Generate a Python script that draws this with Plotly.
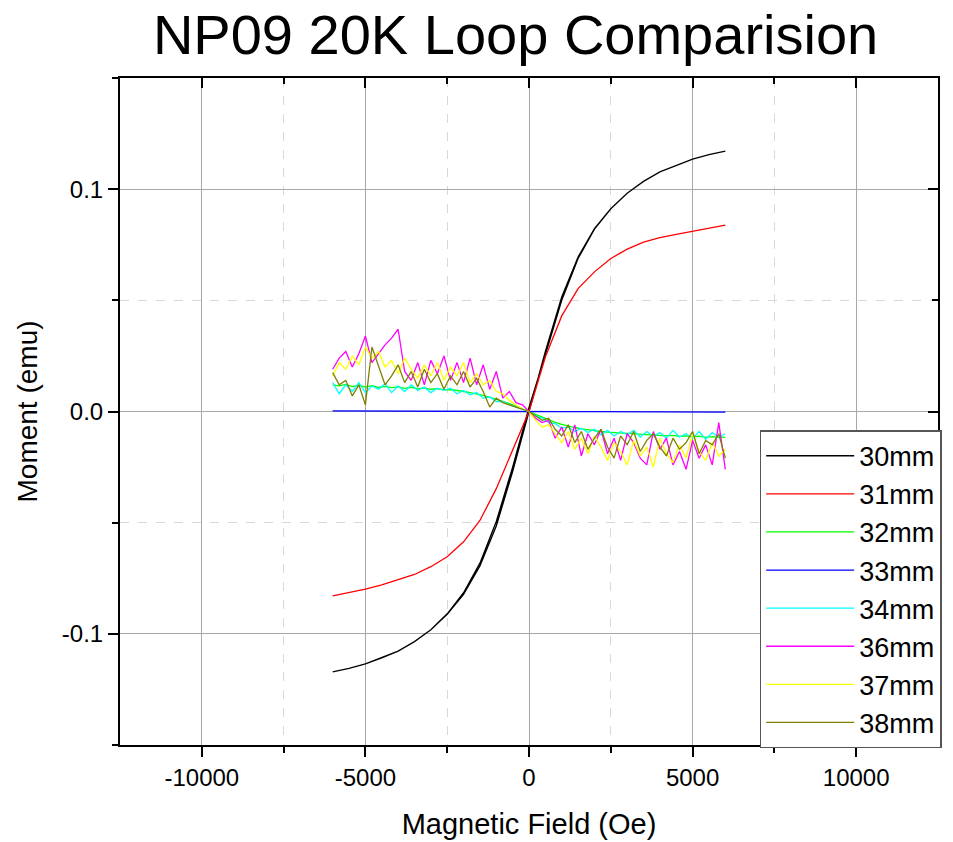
import plotly.graph_objects as go

# ---------------- data ----------------
x_smooth = [-6000, -5500, -5000, -4500, -4000, -3500, -3000, -2500, -2000, -1500, -1000, -500, 0,
            500, 1000, 1500, 2000, 2500, 3000, 3500, 4000, 4500, 5000, 5500, 6000]
m30 = [-0.1171, -0.1155, -0.1135, -0.1108, -0.1078, -0.1035, -0.0982, -0.0912, -0.0823, -0.0695, -0.0515, -0.0270, 0.0,
       0.0270, 0.0515, 0.0695, 0.0823, 0.0912, 0.0982, 0.1035, 0.1078, 0.1108, 0.1135, 0.1155, 0.1171]
m30_ret = [-0.1171, -0.1155, -0.1135, -0.1108, -0.1078, -0.1035, -0.0982, -0.0910, -0.0815, -0.0682, -0.0495, -0.0250, 0.0018,
           0.0255, 0.0500, 0.0688, 0.0820, 0.0912, 0.0982, 0.1035, 0.1078, 0.1108, 0.1135, 0.1155, 0.1171]
m31 = [-0.0829, -0.0815, -0.0799, -0.0780, -0.0757, -0.0733, -0.0698, -0.0653, -0.0586, -0.0490, -0.0347, -0.0175, 0.0,
       0.0245, 0.0430, 0.0553, 0.0628, 0.0688, 0.0730, 0.0762, 0.0782, 0.0797, 0.0811, 0.0825, 0.0838]

x_coarse = [-6000, -5000, -4000, -3000, -2000, -1000, 0, 1000, 2000, 3000, 4000, 5000, 6000]
m33 = [0.0003, 0.0002, 0.0003, 0.0002, 0.0001, 0.0001, 0.0, -0.0001, -0.0001, -0.0002, -0.0002, -0.0003, -0.0003]

x_fine = [-6000, -5800, -5600, -5400, -5200, -5000, -4800, -4600, -4400, -4200,
          -4000, -3800, -3600, -3400, -3200, -3000, -2800, -2600, -2400, -2200,
          -2000, -1800, -1600, -1400, -1200, -1000, -800, -600, -400, -200,
          0,
          200, 400, 600, 800, 1000, 1200, 1400, 1600, 1800, 2000,
          2200, 2400, 2600, 2800, 3000, 3200, 3400, 3600, 3800, 4000,
          4200, 4400, 4600, 4800, 5000, 5200, 5400, 5600, 5800, 6000]

m32 = [0.0120, 0.0115, 0.0122, 0.0112, 0.0118, 0.0110, 0.0116, 0.0108, 0.0113, 0.0107,
       0.0111, 0.0104, 0.0109, 0.0102, 0.0106, 0.0100, 0.0103, 0.0097, 0.0099, 0.0093,
       0.0090, 0.0085, 0.0080, 0.0072, 0.0063, 0.0055, 0.0046, 0.0035, 0.0024, 0.0012,
       0.0,
       -0.0013, -0.0026, -0.0038, -0.0049, -0.0058, -0.0066, -0.0072, -0.0078, -0.0083, -0.0087,
       -0.0090, -0.0093, -0.0095, -0.0098, -0.0099, -0.0102, -0.0103, -0.0106, -0.0105, -0.0108,
       -0.0110, -0.0107, -0.0112, -0.0110, -0.0114, -0.0111, -0.0116, -0.0113, -0.0117, -0.0115]

m34 = [0.0130, 0.0080, 0.0120, 0.0090, 0.0130, 0.0085, 0.0115, 0.0100, 0.0125, 0.0085,
       0.0115, 0.0090, 0.0120, 0.0095, 0.0110, 0.0085, 0.0105, 0.0095, 0.0105, 0.0080,
       0.0095, 0.0075, 0.0085, 0.0060, 0.0065, 0.0045, 0.0045, 0.0030, 0.0020, 0.0010,
       0.0,
       -0.0020, -0.0030, -0.0050, -0.0055, -0.0075, -0.0070, -0.0090, -0.0075, -0.0095, -0.0080,
       -0.0105, -0.0085, -0.0110, -0.0090, -0.0105, -0.0085, -0.0115, -0.0090, -0.0110, -0.0095,
       -0.0120, -0.0085, -0.0115, -0.0100, -0.0120, -0.0090, -0.0125, -0.0095, -0.0115, -0.0100]

m36 = [0.019, 0.024, 0.027, 0.020, 0.026, 0.034, 0.022, 0.026, 0.030, 0.033,
       0.037, 0.018, 0.014, 0.022, 0.012, 0.023, 0.017, 0.025, 0.014, 0.022,
       0.013, 0.024, 0.012, 0.021, 0.010, 0.018, 0.006, 0.009, 0.004, 0.003,
       0.0,
       -0.003, -0.005, -0.004, -0.012, -0.007, -0.016, -0.006, -0.020, -0.010, -0.015,
       -0.008, -0.019, -0.012, -0.022, -0.010, -0.014, -0.021, -0.024, -0.009, -0.017,
       -0.012, -0.024, -0.018, -0.026, -0.013, -0.021, -0.015, -0.024, -0.005, -0.026]

m37 = [0.016, 0.022, 0.019, 0.025, 0.021, 0.029, 0.024, 0.027, 0.020, 0.023,
       0.017, 0.024, 0.019, 0.015, 0.021, 0.016, 0.022, 0.014, 0.020, 0.016,
       0.022, 0.013, 0.017, 0.012, 0.014, 0.009, 0.008, 0.005, 0.003, 0.001,
       0.0,
       -0.004, -0.007, -0.006, -0.010, -0.014, -0.009, -0.017, -0.012, -0.019, -0.011,
       -0.016, -0.022, -0.014, -0.018, -0.024, -0.013, -0.020, -0.016, -0.025, -0.012,
       -0.019, -0.023, -0.015, -0.021, -0.010, -0.018, -0.022, -0.014, -0.020, -0.017]

m38 = [0.0175, 0.012, 0.014, 0.007, 0.012, 0.003, 0.029, 0.020, 0.012, 0.016,
       0.021, 0.013, 0.018, 0.011, 0.019, 0.013, 0.017, 0.010, 0.016, 0.012,
       0.018, 0.011, 0.015, 0.009, 0.002, 0.006, 0.004, 0.003, 0.002, 0.001,
       0.0,
       -0.002, -0.004, -0.003, -0.008, -0.011, -0.006, -0.014, -0.009, -0.017, -0.012,
       -0.008, -0.016, -0.021, -0.011, -0.015, -0.009, -0.018, -0.013, -0.010, -0.016,
       -0.020, -0.012, -0.017, -0.014, -0.009, -0.019, -0.013, -0.015, -0.010, -0.021]

names = ["30mm", "31mm", "32mm", "33mm", "34mm", "36mm", "37mm", "38mm"]
colors = ["#000000", "#ff0000", "#00ff00", "#0000ff", "#00ffff", "#ff00ff", "#ffff00", "#808000"]

x_tickvals = [-10000, -5000, 0, 5000, 10000]
x_ticktext = ["-10000", "-5000", "0", "5000", "10000"]
x_minor = [-7500, -2500, 2500, 7500]
y_tickvals = [-0.1, 0.0, 0.1]
y_ticktext = ["-0.1", "0.0", "0.1"]
y_minor = [-0.15, -0.05, 0.05, 0.15]

FONT = "Liberation Sans, Arial, sans-serif"

fig = go.Figure()

series_x = [x_smooth + x_smooth[::-1], x_smooth, x_fine, x_coarse, x_fine, x_fine, x_fine, x_fine]
series_y = [m30 + m30_ret[::-1], m31, m32, m33, m34, m36, m37, m38]
for name, xs, ys, col in zip(names, series_x, series_y, colors):
    fig.add_trace(go.Scatter(x=xs, y=ys, mode="lines", name=name,
                             line=dict(color=col, width=1.3)))

# invisible trace for mirrored (top/right) axes with inward ticks
fig.add_trace(go.Scatter(x=[0], y=[0], xaxis="x2", yaxis="y2", mode="markers",
                         marker=dict(opacity=0), showlegend=False, hoverinfo="skip"))

xr = [-12500, 12500]
yr = [-0.15, 0.15]

fig.update_layout(
    width=953, height=842,
    margin=dict(l=120, r=15, t=78, b=97, autoexpand=False),
    paper_bgcolor="white", plot_bgcolor="white",
    font=dict(family=FONT, color="black"),
    title=dict(text="NP09 20K Loop Comparision", x=0.541, xanchor="center",
               y=0.959, yanchor="middle", font=dict(size=56, family=FONT, color="black")),
    xaxis=dict(range=xr, tickvals=x_tickvals, ticktext=x_ticktext, ticks="outside",
               ticklen=10, tickwidth=2, tickcolor="black",
               showline=True, linecolor="black", linewidth=2,
               showgrid=True, gridcolor="#a8a8a8", gridwidth=1, zeroline=False,
               tickfont=dict(size=24), title=dict(text="Magnetic Field (Oe)", font=dict(size=29), standoff=24),
               minor=dict(tickvals=x_minor, ticks="outside", ticklen=6, tickwidth=2,
                          tickcolor="black", showgrid=True, gridcolor="#d8d8d8", griddash="dash", gridwidth=1)),
    yaxis=dict(range=yr, tickvals=y_tickvals, ticktext=y_ticktext, ticks="outside",
               ticklen=10, tickwidth=2, tickcolor="black",
               showline=True, linecolor="black", linewidth=2,
               showgrid=True, gridcolor="#a8a8a8", gridwidth=1, zeroline=False,
               tickfont=dict(size=24), title=dict(text="Moment (emu)", font=dict(size=28), standoff=16),
               minor=dict(tickvals=y_minor, ticks="outside", ticklen=6, tickwidth=2,
                          tickcolor="black", showgrid=True, gridcolor="#d8d8d8", griddash="dash", gridwidth=1)),
    xaxis2=dict(range=xr, overlaying="x", side="top", tickvals=x_tickvals, ticks="inside",
                ticklen=10, tickwidth=2, tickcolor="black", showticklabels=False,
                showline=True, linecolor="black", linewidth=2, showgrid=False, zeroline=False,
                minor=dict(tickvals=x_minor, ticks="inside", ticklen=6, tickwidth=2,
                           tickcolor="black")),
    yaxis2=dict(range=yr, overlaying="y", side="right", anchor="x", tickvals=y_tickvals, ticks="inside",
                ticklen=10, tickwidth=2, tickcolor="black", showticklabels=False,
                showline=True, linecolor="black", linewidth=2, showgrid=False, zeroline=False,
                minor=dict(tickvals=y_minor, ticks="inside", ticklen=6, tickwidth=2,
                           tickcolor="black")),
    legend=dict(x=0.782, y=0.472, xanchor="left", yanchor="top",
                bgcolor="white", bordercolor="#555555", borderwidth=1.5,
                font=dict(size=27, family=FONT, color="black"),
                itemwidth=88, tracegroupgap=0),
    showlegend=True,
)

fig.write_html("out.html")
